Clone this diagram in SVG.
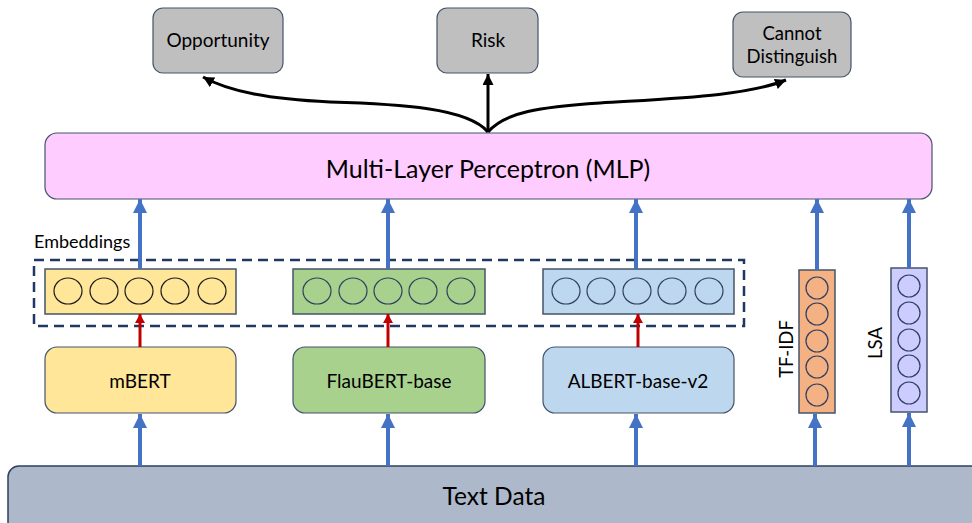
<svg xmlns="http://www.w3.org/2000/svg" width="972" height="523" viewBox="0 0 972 523">
<defs>
<style>
text{font-family:Lato,"Open Sans","Liberation Sans",sans-serif;fill:#000;text-anchor:middle}
.out{fill:#bfbfbf;stroke:#44546a;stroke-width:1.2}
.node{stroke:#44546a;stroke-width:1.2}
.emb{stroke:#44546a;stroke-width:1.5}
.c{fill:none;stroke:#1a1a1a;stroke-width:1.2}
.cb{fill:none;stroke:#2f3f5f;stroke-width:1.2}
.blue{stroke:#4472c4;stroke-width:4;fill:none}
.red{stroke:#c00000;stroke-width:3;fill:none}
.blk{stroke:#000;stroke-width:3;fill:none}
</style>
<marker id="hb" markerUnits="userSpaceOnUse" markerWidth="16" markerHeight="16" refX="14" refY="7" orient="auto"><path d="M0,0 L14,7 L0,14 Z" fill="#4472c4"/></marker>
<marker id="hr" markerUnits="userSpaceOnUse" markerWidth="12" markerHeight="12" refX="9" refY="5" orient="auto"><path d="M0,0 L9,5 L0,10 Z" fill="#c00000"/></marker>
<marker id="hk" markerUnits="userSpaceOnUse" markerWidth="14" markerHeight="14" refX="11" refY="5.5" orient="auto"><path d="M0,0 L11,5.5 L0,11 Z" fill="#000"/></marker>
</defs>

<g id="text-data"><rect x="8" y="466" width="975" height="70" rx="11" fill="#adb9ca" stroke="#2f3f5f" stroke-width="1.5"/><text x="494" y="505" font-size="24.5">Text Data</text></g>

<g id="mlp"><rect x="45" y="133" width="887" height="66" rx="12" fill="#ffccff" stroke="#44546a" stroke-width="1.2"/><text x="488" y="178" font-size="25">Multi-Layer Perceptron (MLP)</text></g>

<g id="opportunity"><rect class="out" x="153" y="8" width="130" height="65" rx="10"/><text x="218" y="47" font-size="19">Opportunity</text></g>
<g id="risk"><rect class="out" x="437" y="8" width="101" height="65" rx="10"/><text x="488" y="47" font-size="19">Risk</text></g>
<g id="cannot-distinguish"><rect class="out" x="733" y="12" width="118" height="65" rx="10"/><text x="792" y="40" font-size="18.5">Cannot</text><text x="792" y="63" font-size="18.5">Distinguish</text></g>

<g id="embeddings-group"><rect x="34" y="260" width="710" height="66" fill="none" stroke="#1f3864" stroke-width="2.5" stroke-dasharray="10,6"/><text x="34" y="248" font-size="18" style="text-anchor:start">Embeddings</text></g>

<g id="mbert-emb"><rect class="emb" x="45" y="269" width="191" height="45" fill="#ffe699"/>
<ellipse class="c" cx="68" cy="291" rx="14" ry="13"/><ellipse class="c" cx="104" cy="291" rx="14" ry="13"/><ellipse class="c" cx="139" cy="291" rx="14" ry="13"/><ellipse class="c" cx="175" cy="291" rx="14" ry="13"/><ellipse class="c" cx="212" cy="291" rx="14" ry="13"/></g>
<g id="flaubert-emb"><rect class="emb" x="293" y="269" width="192" height="45" fill="#a9d18e"/>
<ellipse class="cb" cx="317" cy="291" rx="14" ry="13"/><ellipse class="cb" cx="353" cy="291" rx="14" ry="13"/><ellipse class="cb" cx="388" cy="291" rx="14" ry="13"/><ellipse class="cb" cx="423" cy="291" rx="14" ry="13"/><ellipse class="cb" cx="461" cy="291" rx="14" ry="13"/></g>
<g id="albert-emb"><rect class="emb" x="543" y="269" width="191" height="45" fill="#bdd7ee"/>
<ellipse class="cb" cx="566" cy="291" rx="14" ry="13"/><ellipse class="cb" cx="601" cy="291" rx="14" ry="13"/><ellipse class="cb" cx="637" cy="291" rx="14" ry="13"/><ellipse class="cb" cx="672" cy="291" rx="14" ry="13"/><ellipse class="cb" cx="709" cy="291" rx="14" ry="13"/></g>

<g id="mbert"><rect class="node" x="45" y="347" width="191" height="66" rx="12" fill="#ffe699"/><text x="140" y="388" font-size="19">mBERT</text></g>
<g id="flaubert"><rect class="node" x="293" y="347" width="192" height="66" rx="12" fill="#a9d18e"/><text x="389" y="388" font-size="19">FlauBERT-base</text></g>
<g id="albert"><rect class="node" x="543" y="347" width="191" height="66" rx="12" fill="#bdd7ee"/><text x="638" y="388" font-size="19">ALBERT-base-v2</text></g>

<g id="tfidf"><rect class="emb" x="799" y="270" width="36" height="143" fill="#f4b183"/>
<circle class="cb" cx="817" cy="288" r="11"/><circle class="cb" cx="817" cy="314" r="11"/><circle class="cb" cx="817" cy="341" r="11"/><circle class="cb" cx="817" cy="367" r="11"/><circle class="cb" cx="817" cy="395" r="11"/>
<text transform="translate(793,349) rotate(-90)" font-size="18.5">TF-IDF</text></g>
<g id="lsa"><rect class="emb" x="891" y="268" width="36" height="144" fill="#ccccff"/>
<circle class="cb" cx="909" cy="286" r="11"/><circle class="cb" cx="909" cy="313" r="11"/><circle class="cb" cx="909" cy="340" r="11"/><circle class="cb" cx="909" cy="366" r="11"/><circle class="cb" cx="909" cy="393" r="11"/>
<text transform="translate(882,343) rotate(-90)" font-size="18.5">LSA</text></g>

<g id="connectors">
<line class="blue" x1="140" y1="466" x2="140" y2="414" marker-end="url(#hb)"/>
<line class="blue" x1="388" y1="466" x2="388" y2="414" marker-end="url(#hb)"/>
<line class="blue" x1="636" y1="466" x2="636" y2="414" marker-end="url(#hb)"/>
<line class="blue" x1="815" y1="466" x2="815" y2="414" marker-end="url(#hb)"/>
<line class="blue" x1="909" y1="466" x2="909" y2="413" marker-end="url(#hb)"/>
<line class="blue" x1="140" y1="269" x2="140" y2="199" marker-end="url(#hb)"/>
<line class="blue" x1="388" y1="269" x2="388" y2="199" marker-end="url(#hb)"/>
<line class="blue" x1="636" y1="269" x2="636" y2="199" marker-end="url(#hb)"/>
<line class="blue" x1="817" y1="270" x2="817" y2="199" marker-end="url(#hb)"/>
<line class="blue" x1="909" y1="268" x2="909" y2="199" marker-end="url(#hb)"/>
<line class="red" x1="140" y1="347" x2="140" y2="314" marker-end="url(#hr)"/>
<line class="red" x1="388" y1="347" x2="388" y2="314" marker-end="url(#hr)"/>
<line class="red" x1="638" y1="347" x2="638" y2="314" marker-end="url(#hr)"/>
<line class="blk" x1="488" y1="132" x2="488" y2="74" marker-end="url(#hk)"/>
<path class="blk" d="M488,132 C468,108 400,104 330,102 C270,99 230,92 203,77" marker-end="url(#hk)"/>
<path class="blk" d="M488,132 C505,112 540,107 600,103 C680,98 745,96 786,80" marker-end="url(#hk)"/>
</g>
</svg>
